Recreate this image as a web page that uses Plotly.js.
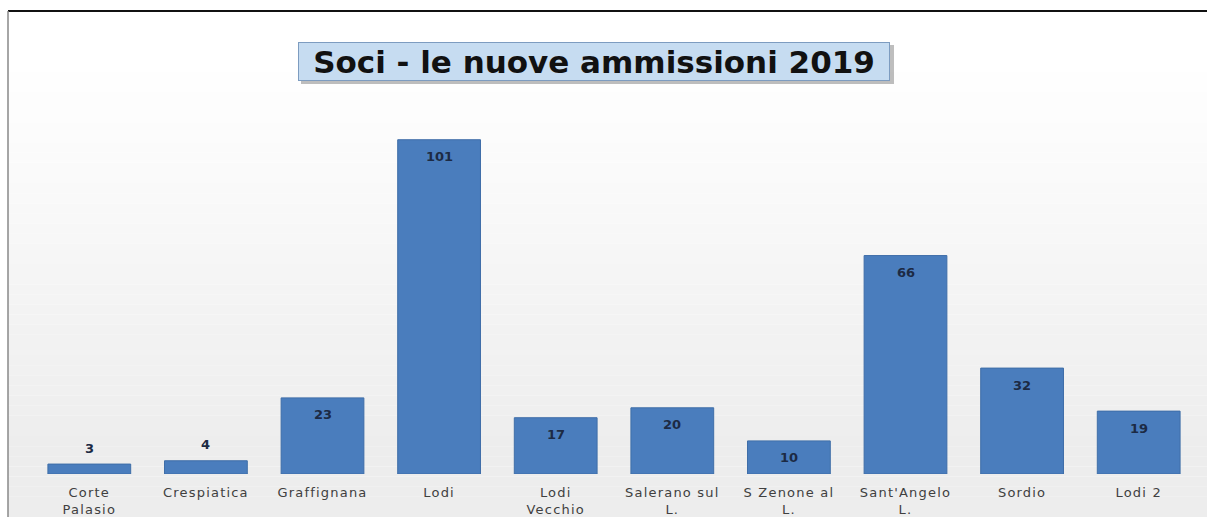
<!DOCTYPE html>
<html>
<head>
<meta charset="utf-8">
<script src="https://cdn.plot.ly/plotly-3.0.1.min.js"></script>
<style>html,body{margin:0;padding:0;background:#fff;}#chart{width:1207px;height:517px;}
.xtick text{letter-spacing:1.2px;}</style>
</head>
<body>
<div id="chart"></div>
<script>
var categories = ["Corte<br>Palasio", "Crespiatica", "Graffignana", "Lodi", "Lodi<br>Vecchio", "Salerano sul<br>L.", "S Zenone al<br>L.", "Sant'Angelo<br>L.", "Sordio", "Lodi 2"];
var values = [3, 4, 23, 101, 17, 20, 10, 66, 32, 19];
var labelInside = [false, false, true, true, true, true, true, true, true, true];
var chartTitle = "Soci - le nuove ammissioni 2019";

// plot area in pixels: x 31..1197, y 100..474
function px(x) { return (x - 31) / 1166; }
function py(y) { return (474 - y) / 374; }

var shapes = [];
var bands = 50;
var yTop = 11, yBot = 517;
for (var i = 0; i < bands; i++) {
  var a = yTop + (yBot - yTop) * i / bands;
  var b = yTop + (yBot - yTop) * (i + 1) / bands;
  var f = Math.max(0, Math.min(1, (a - 60) / 380));
  var g = Math.round(255 - (255 - 237) * f);
  shapes.push({type: 'rect', xref: 'paper', yref: 'paper', x0: px(8), x1: px(1207), y0: py(b), y1: py(a),
    fillcolor: 'rgb(' + g + ',' + g + ',' + g + ')', line: {width: 0}, layer: 'below'});
}
shapes.push({type: 'line', xref: 'paper', yref: 'paper', x0: px(8), x1: px(1207), y0: py(11), y1: py(11), line: {color: '#111', width: 2}});
shapes.push({type: 'line', xref: 'paper', yref: 'paper', x0: px(8), x1: px(8), y0: py(517), y1: py(11), line: {color: '#888', width: 1.5}});
shapes.push({type: 'rect', xref: 'paper', yref: 'paper', x0: px(301), x1: px(894), y0: py(84), y1: py(45), fillcolor: 'rgba(110,110,110,0.45)', line: {width: 0}});

var trace = {
  type: 'bar',
  x: categories,
  y: values,
  marker: {color: '#4a7dbd', line: {color: '#3f6ea8', width: 1}},
  hoverinfo: 'none'
};

var annotations = values.map(function (v, i) {
  return {
    xref: 'x', yref: 'y', x: categories[i], y: v,
    text: '<b>' + v + '</b>', showarrow: false,
    yanchor: 'middle', yshift: labelInside[i] ? -17 : 16,
    font: {family: 'DejaVu Sans, sans-serif', size: 13, color: '#1c2a44'}
  };
});
annotations.push({
  xref: 'paper', yref: 'paper',
  x: px(594), y: py(61), xanchor: 'center', yanchor: 'middle',
  text: '<b>' + chartTitle + '</b>',
  showarrow: false,
  font: {family: 'DejaVu Sans, sans-serif', size: 31, color: '#111'},
  bgcolor: '#c6dcf1', bordercolor: '#7d9cc0', borderwidth: 1,
  width: 588, height: 35
});

var layout = {
  width: 1207, height: 517,
  margin: {l: 31, r: 10, t: 100, b: 43},
  paper_bgcolor: '#ffffff',
  plot_bgcolor: 'rgba(0,0,0,0)',
  bargap: 0.29,
  showlegend: false,
  shapes: shapes,
  annotations: annotations,
  xaxis: {
    showgrid: false, zeroline: false, showline: false, ticks: '',
    ticklabelstandoff: 9,
    tickfont: {family: 'DejaVu Sans, sans-serif', size: 13, color: '#404040'},
    tickangle: 0
  },
  yaxis: {range: [0, 113], visible: false, showgrid: false, zeroline: false}
};

Plotly.newPlot('chart', [trace], layout, {displayModeBar: false, staticPlot: true});
</script>
</body>
</html>
